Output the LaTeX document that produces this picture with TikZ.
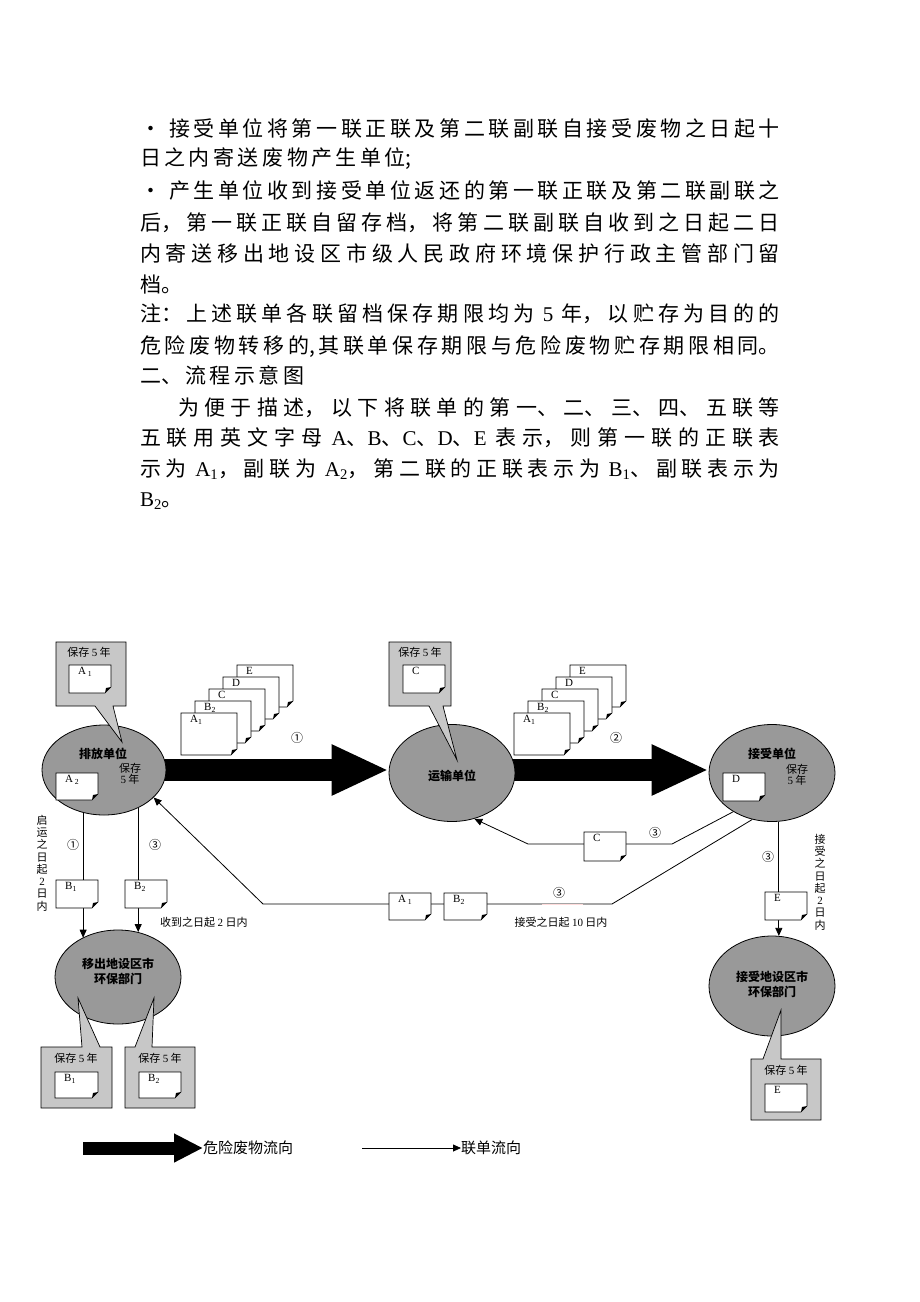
\documentclass[tikz,border=0pt]{standalone}
\usepackage{fontspec}
\setmainfont{Noto Sans CJK SC}
\newfontfamily\lat{Liberation Serif}
\usetikzlibrary{shapes.geometric,arrows.meta,backgrounds}
\XeTeXlinebreaklocale "zh"
\XeTeXlinebreakskip=0pt plus 1pt
\definecolor{ellgray}{gray}{0.6}
\definecolor{callgray}{gray}{0.78}
\newcommand{\jl}[1]{#1\parfillskip=0pt\relax\par}
\newcommand{\gs}{\hskip 8pt plus 10pt\relax}
\newcommand{\sbs}[1]{\textsubscript{#1}}
\newcommand{\mkdoc}[6]{%
  \node[docbox, minimum width=#4pt, minimum height=#5pt] (#1) at (#2,#3) {};
  \filldraw[docline] (#1.north west) -- (#1.north east) -- ([yshift=6pt]#1.south east)
     -- ([xshift=-6pt]#1.south east) -- (#1.south west) -- cycle;
  \fill ([yshift=6pt]#1.south east) -- ([xshift=-6pt]#1.south east)
     -- ([xshift=-5pt,yshift=5pt]#1.south east) -- cycle;
  \node[doclbl] (#1t) at ([xshift=8pt,yshift=-1pt]#1.north west) {#6};
}
\begin{document}
\begin{tikzpicture}[x=1pt,y=-1pt,
  body/.style={anchor=base west, inner sep=0pt, outer sep=0pt, text width=640pt, align=justify,
    font=\fontsize{21}{26}\selectfont,
    execute at begin node={\noindent\XeTeXlinebreakskip=3.5pt plus 20pt minus 1.5pt\relax}},
  ell/.style={ellipse, draw, line width=0.8pt, fill=ellgray, inner sep=0pt},
  callout/.style={draw, line width=0.7pt, fill=callgray},
  docbox/.style={inner sep=0pt, outer sep=0pt, draw=none},
  docline/.style={draw=black, fill=white, line width=0.6pt},
  doclbl/.style={anchor=north west, inner sep=1pt, font=\lat\fontsize{11}{12}\selectfont},
  small/.style={inner sep=1pt, font=\fontsize{11}{11.5}\selectfont},
  elbl/.style={inner sep=1pt, font=\bfseries\fontsize{12}{15}\selectfont},
  circ/.style={inner sep=0pt, font=\fontsize{12}{12}\selectfont},
  flow/.style={line width=0.8pt, -{Triangle[length=8pt,width=7pt]}},
  bigflow/.style={line width=22pt, -{Triangle[length=57pt,width=47pt]}},
  legbig/.style={line width=13pt, -{Triangle[length=29pt,width=27pt]}},
  legtxt/.style={inner sep=0pt, anchor=west, font=\fontsize{15}{16}\selectfont}
]
\useasboundingbox (0,0) rectangle (920,1302);

% ---------------- body text ----------------
\node[body] (t1) at (140,136) {\jl{·\gs 接受单位将第一联正联及第二联副联自接受废物之日起十}};
\node[body] (t2) at (140,165) {日之内寄送废物产生单位;};
\node[body] (t3) at (140,198) {\jl{·\gs 产生单位收到接受单位返还的第一联正联及第二联副联之}};
\node[body] (t4) at (140,230) {\jl{后，第一联正联自留存档，将第二联副联自收到之日起二日}};
\node[body] (t5) at (140,261) {\jl{内寄送移出地设区市级人民政府环境保护行政主管部门留}};
\node[body] (t6) at (140,292) {档。};
\node[body] (t7) at (140,321) {\jl{注：上述联单各联留档保存期限均为\gs{\lat 5}\gs 年，以贮存为目的的}};
\node[body] (t8) at (140,353) {\jl{危险废物转移的,其联单保存期限与危险废物贮存期限相同。}};
\node[body] (t9) at (140,383) {二、流程示意图};
\node[body, text width=602pt] (t10) at (178,415) {\jl{为便于描述，以下将联单的第一、二、三、四、五联等}};
\node[body] (t11) at (140,445) {\jl{五联用英文字母\gs{\lat A}、{\lat B}、{\lat C}、{\lat D}、{\lat E}\gs 表示，则第一联的正联表}};
\node[body] (t12) at (140,476) {\jl{示为\gs{\lat A\sbs{1}}，副联为\gs{\lat A\sbs{2}}，第二联的正联表示为\gs{\lat B\sbs{1}}、副联表示为}};
\node[body] (t13) at (140,506) {{\lat B\sbs{2}}。};

% ---------------- ellipses ----------------
\node[ell, minimum width=124pt, minimum height=90pt] (pf) at (104,770) {};
\node[ell, minimum width=126pt, minimum height=97pt] (ys) at (452,773) {};
\node[ell, minimum width=126pt, minimum height=97pt] (js) at (772,773) {};
\node[ell, minimum width=126pt, minimum height=94pt] (yc) at (118,977) {};
\node[ell, minimum width=126pt, minimum height=100pt] (jd) at (772,986) {};

% ---------------- callouts ----------------
\filldraw[callout] (56,642) -- (126,642) -- (126,706) -- (113,706) -- (122,742) -- (95,706) -- (56,706) -- cycle;
\filldraw[callout] (389,642) -- (451,642) -- (451,706) -- (443,706) -- (457,760) -- (429,706) -- (389,706) -- cycle;
\filldraw[callout] (41,1047) -- (82,1047) -- (78,998) -- (100,1047) -- (112,1047) -- (112,1108) -- (41,1108) -- cycle;
\filldraw[callout] (125,1047) -- (135,1047) -- (154,998) -- (152,1047) -- (195,1047) -- (195,1108) -- (125,1108) -- cycle;
\filldraw[callout] (751,1059) -- (763,1059) -- (781,1010) -- (781,1059) -- (821,1059) -- (821,1120) -- (751,1120) -- cycle;

% ---------------- thick flows ----------------
\begin{scope}[on background layer]
  \fill[white] (0,0) rectangle (920,1302);
  \draw[bigflow] (pf.center) -- (pf.center -| ys.west);
  \draw[bigflow] (ys.center |- pf.center) -- (js.west |- pf.center);
\end{scope}

% ---------------- thin flows ----------------
\draw[flow] (pf.244) -- (pf.244 |- yc.132);
\draw[flow] (pf.312) -- (pf.312 |- yc.66);
\draw[flow] (js.278) -- (js.278 |- jd.82);
\coordinate (c1) at (672,844);
\coordinate (c2) at (528,844);
\draw[flow] (js.225) -- (c1) -- (c2) -- (ys.296);
\coordinate (r1) at (612,904);
\coordinate (r2) at (263,904);
\draw[flow] (js.247) -- (r1) -- (r2) -- (pf.331);
\draw[pink!55, line width=0.8pt] (542,904) -- (583,904);

% ---------------- documents ----------------
\mkdoc{da1}{90}{679}{42}{28}{A\,\sbs{1}}
\mkdoc{dc0}{424}{679}{42}{28}{C}
\mkdoc{da2}{77}{786.5}{42}{27}{A\,\sbs{2}}
\mkdoc{dd}{744}{787}{42}{28}{D}
\mkdoc{db1}{77}{894}{42}{28}{B\sbs{1}}
\mkdoc{db2}{146}{894}{42}{28}{B\sbs{2}}
\mkdoc{de}{786}{906}{42}{28}{E}
\mkdoc{dra1}{410}{906.5}{42}{27}{A\,\sbs{1}}
\mkdoc{drb2}{465.5}{906.5}{43}{27}{B\sbs{2}}
\mkdoc{drc}{605}{846.5}{42}{29}{C}
\mkdoc{dkb1}{76.5}{1085}{43}{26}{B\sbs{1}}
\mkdoc{dkb2}{160}{1085}{42}{26}{B\sbs{2}}
\mkdoc{dke}{786}{1098}{42}{28}{E}
% stack 1
\mkdoc{s1e}{265}{686}{56}{42}{E}
\mkdoc{s1d}{251}{698}{56}{42}{D}
\mkdoc{s1c}{237}{710}{56}{42}{C}
\mkdoc{s1b}{223}{722}{56}{42}{B\sbs{2}}
\mkdoc{s1a}{209}{734}{56}{42}{A\sbs{1}}
% stack 2
\mkdoc{s2e}{598}{686}{56}{42}{E}
\mkdoc{s2d}{584}{698}{56}{42}{D}
\mkdoc{s2c}{570}{710}{56}{42}{C}
\mkdoc{s2b}{556}{722}{56}{42}{B\sbs{2}}
\mkdoc{s2a}{542}{734}{56}{42}{A\sbs{1}}

% ---------------- labels ----------------
\node[small] (k1) at (89,652) {保存 {\lat 5} 年};
\node[small] (k2) at (420,652) {保存 {\lat 5} 年};
\node[small] (k3) at (76,1058) {保存 {\lat 5} 年};
\node[small] (k4) at (160,1058) {保存 {\lat 5} 年};
\node[small] (k5) at (786,1070) {保存 {\lat 5} 年};

\node[elbl] (pft) at (103,754) {排放单位};
\node[small, align=center] (pfk) at (130,774) {保存\\{\lat 5} 年};
\node[elbl] (yst) at (452,776) {运输单位};
\node[elbl] (jst) at (772,754) {接受单位};
\node[small, align=center] (jsk) at (797,775) {保存\\{\lat 5} 年};
\node[elbl, align=center] (yct) at (118,971) {移出地设区市\\环保部门};
\node[elbl, align=center] (jdt) at (772,984) {接受地设区市\\环保部门};

\node[circ] (n1) at (297,738) {①};
\node[circ] (n2) at (616,738) {②};
\node[circ] (n3) at (73,845) {①};
\node[circ] (n4) at (155,845) {③};
\node[circ] (n5) at (655,833) {③};
\node[circ] (n6) at (559,893) {③};
\node[circ] (n7) at (768,857) {③};

\node[small, align=center, font=\fontsize{11}{12.3}\selectfont] (v1) at (42,863) {启\\运\\之\\日\\起\\{\lat 2}\\日\\内};
\node[small, align=center, font=\fontsize{11}{12.3}\selectfont] (v2) at (820,882) {接\\受\\之\\日\\起\\{\lat 2}\\日\\内};
\node[small, anchor=west] (d1) at (159,922) {收到之日起 {\lat 2} 日内};
\node[small] (d2) at (561,922) {接受之日起 {\lat 10} 日内};

% ---------------- legend ----------------
\coordinate (lg1) at (83,1148);
\node[legtxt] (leg1) at (203,1148) {危险废物流向};
\draw[legbig] (lg1) -- (leg1.west);
\coordinate (lg2) at (362,1148);
\node[legtxt] (leg2) at (461,1148) {联单流向};
\draw[flow] (lg2) -- (leg2.west);
\end{tikzpicture}
\end{document}
